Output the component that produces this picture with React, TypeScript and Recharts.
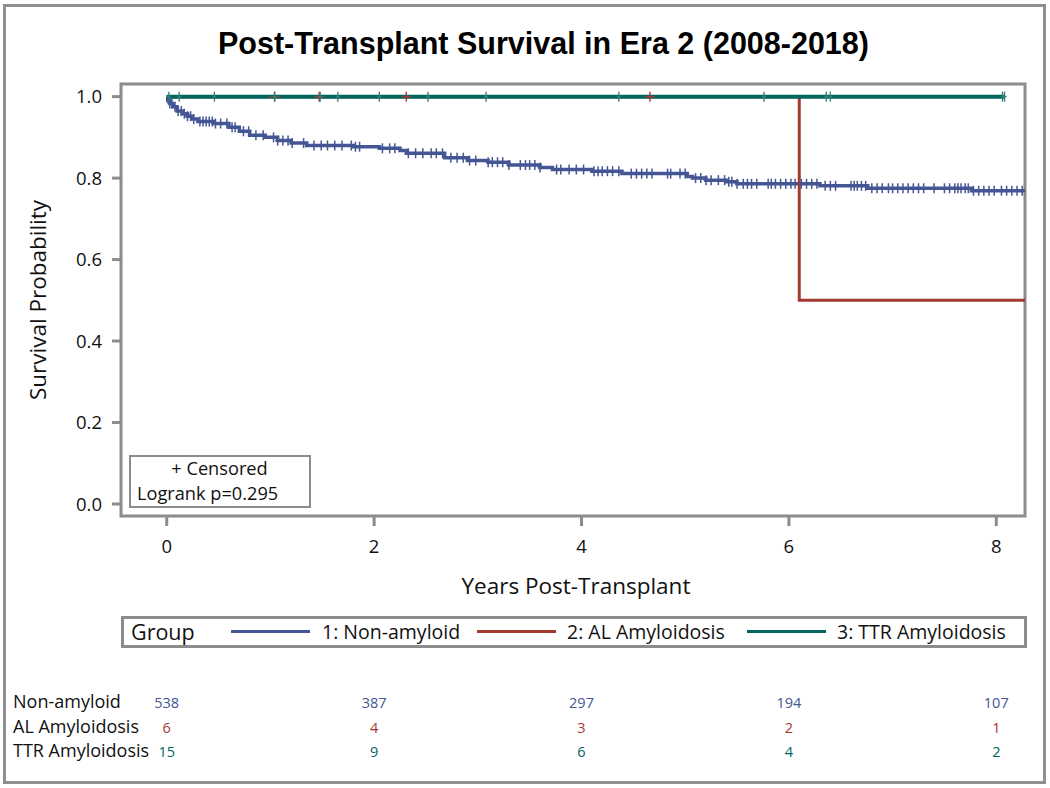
import React from 'react';
import { ComposedChart, Line, Scatter, XAxis, YAxis, ReferenceArea } from 'recharts';

const BLUE = '#445694';
const RED = '#A23A2E';
const GREEN = '#01665E';
const FRAME = '#8c8c8c';
const FONT = '"Open Sans", "Noto Sans", sans-serif';

const yearTicks = [0, 2, 4, 6, 8];
const probTicks = [0, 0.2, 0.4, 0.6, 0.8, 1.0];
const xMin = -0.441;
const xMax = 8.277;
const yMin = -0.0295;
const yMax = 1.031;

const groupNames = ['1: Non-amyloid', '2: AL Amyloidosis', '3: TTR Amyloidosis'];
const groupColors = [BLUE, RED, GREEN];
const riskLabels = ['Non-amyloid', 'AL Amyloidosis', 'TTR Amyloidosis'];
const atRiskNonAmyloid = [538, 387, 297, 194, 107];
const atRiskAL = [6, 4, 3, 2, 1];
const atRiskTTR = [15, 9, 6, 4, 2];

// Kaplan-Meier steps
const nonAmyloidTimes = [0, 0.01, 0.03, 0.06, 0.1, 0.15, 0.2, 0.25, 0.3, 0.45, 0.6, 0.7, 0.8, 0.95, 1.07, 1.2, 1.35, 1.8, 2.05, 2.25, 2.31, 2.68, 2.9, 3.1, 3.3, 3.6, 3.72, 4.1, 4.39, 5.02, 5.07, 5.2, 5.4, 5.5, 6.3, 6.76, 7.76, 8.277];
const nonAmyloidSurv = [1.0, 0.99, 0.983, 0.975, 0.965, 0.958, 0.952, 0.945, 0.939, 0.934, 0.925, 0.915, 0.905, 0.9, 0.892, 0.886, 0.88, 0.877, 0.873, 0.868, 0.861, 0.85, 0.843, 0.839, 0.832, 0.826, 0.821, 0.817, 0.811, 0.804, 0.8, 0.795, 0.791, 0.786, 0.781, 0.775, 0.769, 0.769];
const alTimes = [0, 6.1, 8.277];
const alSurv = [1.0, 0.5, 0.5];
const ttrTimes = [0, 8.08];
const ttrSurv = [1.0, 1.0];

// censoring times
const nonAmyloidCensor = [0.03, 0.05, 0.08, 0.11, 0.14, 0.17, 0.2, 0.23, 0.26, 0.32, 0.35, 0.38, 0.41, 0.44, 0.47, 0.52, 0.58, 0.63, 0.66, 0.74, 0.79, 0.86, 0.93, 1.03, 1.07, 1.12, 1.17, 1.21, 1.32, 1.42, 1.49, 1.55, 1.62, 1.69, 1.78, 1.82, 1.86, 2.08, 2.15, 2.2, 2.33, 2.4, 2.47, 2.55, 2.6, 2.66, 2.74, 2.8, 2.86, 2.92, 2.98, 3.1, 3.14, 3.19, 3.24, 3.3, 3.41, 3.46, 3.5, 3.55, 3.6, 3.76, 3.8, 3.88, 3.95, 4.02, 4.12, 4.16, 4.2, 4.25, 4.3, 4.36, 4.48, 4.53, 4.58, 4.63, 4.68, 4.83, 4.86, 4.95, 5.0, 5.1, 5.15, 5.2, 5.25, 5.32, 5.38, 5.42, 5.45, 5.5, 5.56, 5.6, 5.64, 5.69, 5.8, 5.83, 5.87, 5.92, 5.97, 6.02, 6.06, 6.12, 6.17, 6.22, 6.27, 6.35, 6.4, 6.45, 6.6, 6.63, 6.66, 6.7, 6.74, 6.8, 6.85, 6.9, 6.96, 7.0, 7.05, 7.1, 7.15, 7.2, 7.25, 7.3, 7.4, 7.5, 7.55, 7.6, 7.63, 7.66, 7.7, 7.73, 7.78, 7.83, 7.88, 7.93, 7.98, 8.05, 8.1, 8.15, 8.2, 8.25];
const alCensor = [1.04, 1.47, 2.31, 4.66];
const ttrCensor = [0.02, 0.12, 0.46, 1.04, 1.48, 1.65, 2.05, 2.52, 3.08, 4.36, 5.76, 6.36, 6.4, 8.06, 8.08];

const toSteps = (times: number[], surv: number[]) => times.map((t, i) => ({ t, s: surv[i] }));
const survAt = (times: number[], surv: number[], t: number) => {
  let v = surv[0];
  times.forEach((tt, i) => { if (tt <= t) v = surv[i]; });
  return v;
};
const toCensor = (c: number[], times: number[], surv: number[]) => c.map((t) => ({ t, s: survAt(times, surv, t) }));

const blueData = toSteps(nonAmyloidTimes, nonAmyloidSurv);
const redData = toSteps(alTimes, alSurv);
const greenData = toSteps(ttrTimes, ttrSurv);
const blueCensor = toCensor(nonAmyloidCensor, nonAmyloidTimes, nonAmyloidSurv);
const redCensor = toCensor(alCensor, alTimes, alSurv);
const greenCensor = toCensor(ttrCensor, ttrTimes, ttrSurv);

const plusMark = (color: string, h: number, w: number, sw: number) => (props: any) => {
  const { cx, cy } = props;
  return (
    <g>
      <line x1={cx} x2={cx} y1={cy - h} y2={cy + h} stroke={color} strokeWidth={sw} />
      <line x1={cx - w} x2={cx + w} y1={cy} y2={cy} stroke={color} strokeWidth={sw} />
    </g>
  );
};

const RiskTick = (props: any) => {
  const { x, y, payload } = props;
  const i = yearTicks.indexOf(payload.value);
  const rows = [atRiskNonAmyloid, atRiskAL, atRiskTTR];
  return (
    <g>
      {rows.map((r, k) => (
        <text key={k} x={x} y={y + 112 + k * 24.5} textAnchor="middle" fill={groupColors[k]} fontSize={14.5} fontFamily={FONT}>
          {r[i]}
        </text>
      ))}
      {i === 0 &&
        riskLabels.map((l, k) => (
          <text key={'l' + k} x={13} y={y + 112 + k * 24.5} fill="#111" fontSize={18} fontFamily={FONT}>
            {l}
          </text>
        ))}
    </g>
  );
};

// x positions of legend pieces inside the legend box
const legendLineX = [107, 353, 623];
const legendTextX = [198, 443, 713];

export default function App() {
  return (
    <div style={{ position: 'absolute', left: 0, top: 0, width: 1050, height: 788, background: '#fff', fontFamily: FONT }}>
      <div style={{ position: 'absolute', left: 3, top: 4, width: 1043, height: 780, border: '3px solid #8f8f8f', boxSizing: 'border-box' }} />
      <div
        style={{
          position: 'absolute', left: 0, top: 28, width: 1087, textAlign: 'center',
          fontFamily: '"Liberation Sans", Arial, sans-serif', fontWeight: 'bold', fontSize: 30.5, lineHeight: '30px', color: '#000',
        }}
      >
        Post-Transplant Survival in Era 2 (2008-2018)
      </div>
      <ComposedChart width={1050} height={788} margin={{ top: 84, right: 25, bottom: 0, left: 10 }}>
        <XAxis
          type="number"
          dataKey="t"
          domain={[xMin, xMax]}
          ticks={yearTicks}
          allowDataOverflow
          height={80}
          axisLine={false}
          tickSize={10}
          tickMargin={14}
          tickLine={{ stroke: FRAME, strokeWidth: 3 }}
          tick={{ fill: '#111', fontSize: 18.5, fontFamily: FONT }}
          label={{
            content: (p: any) => (
              <text x={p.viewBox.x + p.viewBox.width / 2 + 3} y={p.viewBox.y + 78} textAnchor="middle" fill="#111" fontSize={22.5} fontFamily={FONT}>
                Years Post-Transplant
              </text>
            ),
          }}
        />
        <XAxis
          xAxisId="risk"
          type="number"
          dataKey="t"
          domain={[xMin, xMax]}
          ticks={yearTicks}
          allowDataOverflow
          height={192}
          axisLine={false}
          tickLine={false}
          tickSize={0}
          tickMargin={0}
          tick={<RiskTick />}
        />
        <YAxis
          type="number"
          domain={[yMin, yMax]}
          ticks={probTicks}
          allowDataOverflow
          width={111}
          axisLine={false}
          tickSize={9}
          tickMargin={10}
          tickLine={{ stroke: FRAME, strokeWidth: 3 }}
          tickFormatter={(v: number) => v.toFixed(1)}
          tick={{ fill: '#111', fontSize: 18.5, fontFamily: FONT }}
          label={{
            content: (p: any) => {
              const cx = p.viewBox.x + 27;
              const cy = p.viewBox.y + p.viewBox.height / 2;
              return (
                <text x={cx} y={cy} transform={`rotate(-90 ${cx} ${cy})`} textAnchor="middle" dominantBaseline="central" fill="#111" fontSize={22.5} fontFamily={FONT}>
                  Survival Probability
                </text>
              );
            },
          }}
        />
        <Line data={blueData} dataKey="s" type="stepAfter" stroke={BLUE} strokeWidth={3.5} dot={false} isAnimationActive={false} />
        <Scatter data={blueCensor} dataKey="s" fill={BLUE} shape={plusMark(BLUE, 5, 2.5, 1.5)} isAnimationActive={false} />
        <Line data={redData} dataKey="s" type="stepAfter" stroke={RED} strokeWidth={3} dot={false} isAnimationActive={false} />
        <Line data={greenData} dataKey="s" type="stepAfter" stroke={GREEN} strokeWidth={4} dot={false} isAnimationActive={false} />
        <Scatter data={redCensor} dataKey="s" fill={RED} shape={plusMark(RED, 5, 5, 1.4)} isAnimationActive={false} />
        <Scatter data={greenCensor} dataKey="s" fill={GREEN} shape={plusMark('#2f8075', 5, 2, 1.3)} isAnimationActive={false} />
        <ReferenceArea x1={xMin} x2={xMax} y1={yMin} y2={yMax} fill="none" stroke={FRAME} strokeWidth={3} ifOverflow="visible" />
      </ComposedChart>
      <div
        style={{
          position: 'absolute', left: 129, top: 455, width: 182, height: 53, border: '2.5px solid ' + FRAME, boxSizing: 'border-box',
          background: '#fff', fontSize: 18.2, lineHeight: '25px', color: '#111', paddingLeft: 6, whiteSpace: 'nowrap',
        }}
      >
        <div style={{ position: 'absolute', left: 0, top: -1, width: 177, textAlign: 'center', height: 25 }}>+ Censored</div>
        <div style={{ position: 'absolute', left: 6, top: 24, height: 25 }}>Logrank p=0.295</div>
      </div>
      <div
        style={{
          position: 'absolute', left: 121, top: 616, width: 906, height: 32, border: '3px solid ' + FRAME, boxSizing: 'border-box',
          fontSize: 19.5, color: '#111', whiteSpace: 'nowrap',
        }}
      >
        <span style={{ position: 'absolute', left: 7, top: 0, fontSize: 21.5, lineHeight: '26px' }}>Group</span>
        {groupNames.map((g, i) => (
          <React.Fragment key={g}>
            <span style={{ position: 'absolute', left: legendLineX[i], top: 11, width: 79, height: 3, background: groupColors[i] }} />
            <span style={{ position: 'absolute', left: legendTextX[i], top: 0, lineHeight: '26px' }}>{g}</span>
          </React.Fragment>
        ))}
      </div>
    </div>
  );
}
